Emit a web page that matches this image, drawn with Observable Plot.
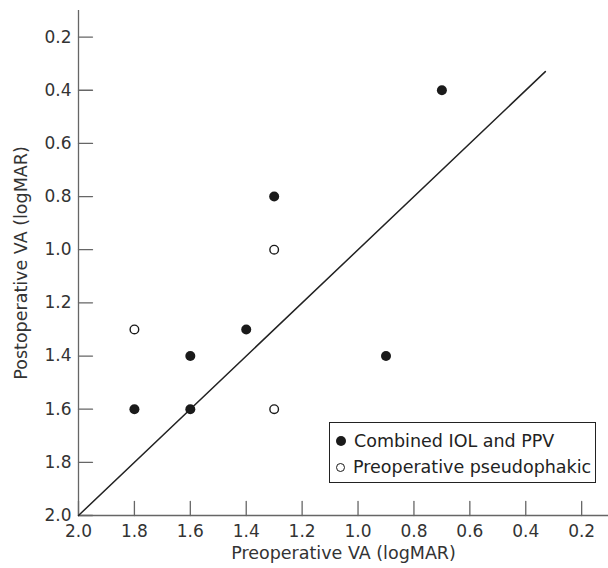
<!DOCTYPE html>
<html>
<head>
<meta charset="utf-8">
<script src="https://cdn.jsdelivr.net/npm/d3@7"></script>
<script src="https://cdn.jsdelivr.net/npm/@observablehq/plot@0.6"></script>
<style>
  html, body { margin: 0; padding: 0; background: #fff; }
  #wrap { position: relative; width: 608px; height: 568px; font-family: "DejaVu Sans", sans-serif; }
  #legend { position: absolute; left: 329px; top: 422px; width: 265px; height: 59px; border: 1.5px solid #222; background: #fff; color: #222; font-size: 17.5px; }
  #legend .row { position: absolute; left: 6px; height: 20px; line-height: 20px; white-space: nowrap; }
  #legend .mk { display: inline-block; width: 10px; height: 10px; border-radius: 50%; box-sizing: border-box; margin-right: 8px; vertical-align: middle; position: relative; top: -1px; }
</style>
</head>
<body>
<div id="wrap"></div>
<script>
// Data
const xTicks = [2.0, 1.8, 1.6, 1.4, 1.2, 1.0, 0.8, 0.6, 0.4, 0.2];
const yTicks = [0.2, 0.4, 0.6, 0.8, 1.0, 1.2, 1.4, 1.6, 1.8, 2.0];
const combinedPre  = [0.7, 1.3, 1.4, 1.6, 0.9, 1.8, 1.6];
const combinedPost = [0.4, 0.8, 1.3, 1.4, 1.4, 1.6, 1.6];
const pseudoPre    = [1.3, 1.8, 1.3];
const pseudoPost   = [1.0, 1.3, 1.6];
const identityEnds = [2.0, 0.33];
const seriesNames  = ["Combined IOL and PPV", "Preoperative pseudophakic"];
const xTitle = "Preoperative VA (logMAR)";
const yTitle = "Postoperative VA (logMAR)";

const combined = combinedPre.map((v, i) => ({pre: v, post: combinedPost[i]}));
const pseudo = pseudoPre.map((v, i) => ({pre: v, post: pseudoPost[i]}));
const identity = identityEnds.map(v => ({pre: v, post: v}));

const tickShape = { draw(context, l) { context.moveTo(0, 0); context.lineTo(0, -l); } };
const fmt = d => d.toFixed(1);
const axisColor = "#666";

const chart = Plot.plot({
  width: 608,
  height: 568,
  marginLeft: 78,
  marginRight: 0,
  marginTop: 10,
  marginBottom: 53,
  style: { fontFamily: "DejaVu Sans, sans-serif", fontSize: "17px", color: "#333", background: "#fff" },
  x: { domain: [2.0, 0.104] },
  y: { domain: [2.0, 0.1] },
  marks: [
    Plot.ruleX([2.0], { stroke: axisColor, strokeWidth: 1.3 }),
    Plot.ruleY([2.0], { stroke: axisColor, strokeWidth: 1.3 }),
    Plot.vector(yTicks, { y: d => d, frameAnchor: "left", rotate: 90, length: 14, anchor: "start", shape: tickShape, stroke: axisColor, strokeWidth: 1.3 }),
    Plot.vector(xTicks, { x: d => d, frameAnchor: "bottom", rotate: 0, length: 14, anchor: "start", shape: tickShape, stroke: axisColor, strokeWidth: 1.3 }),
    Plot.axisY({ ticks: yTicks, tickSize: 0, tickPadding: 7, tickFormat: fmt, label: null, fill: "#333" }),
    Plot.axisX({ ticks: xTicks, tickSize: 0, tickPadding: 9, tickFormat: fmt, label: null, fill: "#333" }),
    Plot.text([yTitle], { text: d => d, frameAnchor: "left", rotate: -90, dx: -57, lineAnchor: "middle", textAnchor: "middle", fill: "#333", fontSize: 17.5 }),
    Plot.text([xTitle], { text: d => d, frameAnchor: "bottom", dy: 38, lineAnchor: "middle", textAnchor: "middle", fill: "#333", fontSize: 17.5 }),
    Plot.line(identity, { x: "pre", y: "post", stroke: "#222", strokeWidth: 1.5 }),
    Plot.dot(combined, { x: "pre", y: "post", r: 5, fill: "#1a1a1a", stroke: "none" }),
    Plot.dot(pseudo, { x: "pre", y: "post", r: 4.3, fill: "#fff", stroke: "#1a1a1a", strokeWidth: 1.4 })
  ]
});

const wrap = document.getElementById("wrap");
wrap.appendChild(chart);

const legend = document.createElement("div");
legend.id = "legend";
seriesNames.forEach((name, i) => {
  const row = document.createElement("div");
  row.className = "row";
  row.style.top = (i === 0 ? 8 : 34) + "px";
  const mk = document.createElement("span");
  mk.className = "mk";
  if (i === 0) { mk.style.background = "#1a1a1a"; }
  else { mk.style.background = "#fff"; mk.style.border = "1.4px solid #1a1a1a"; mk.style.width = "9px"; mk.style.height = "9px"; }
  row.appendChild(mk);
  row.appendChild(document.createTextNode(name));
  legend.appendChild(row);
});
wrap.appendChild(legend);
</script>
</body>
</html>
